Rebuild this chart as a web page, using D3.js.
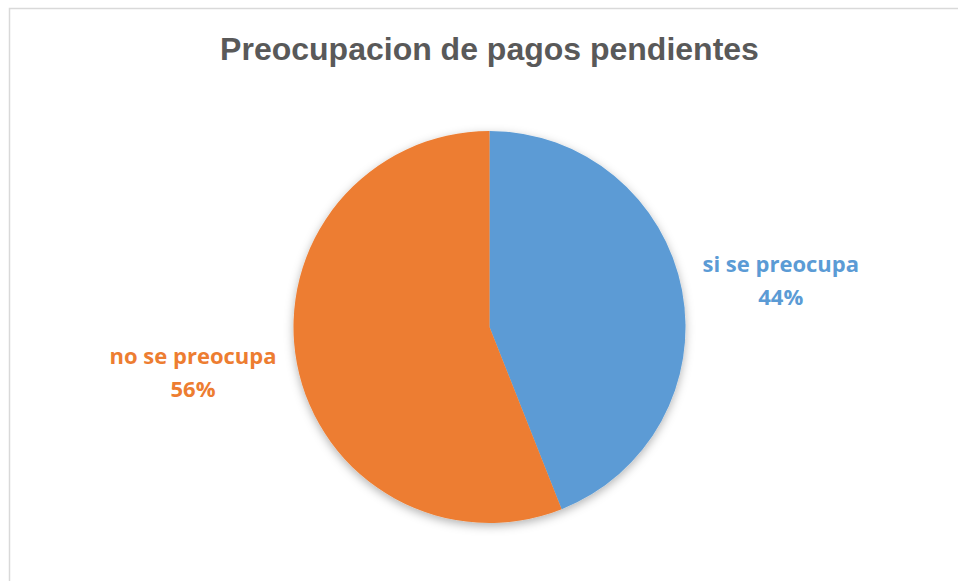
<!DOCTYPE html>
<html>
  <head>
    <title>Preocupacion de pagos pendientes</title>
    <meta charset="utf-8" />
    <style>
      body { margin: 0; background: #fff; }
    </style>
  </head>
  <body>
    <div id="chart"></div>
    <script src="https://d3js.org/d3.v7.min.js"></script>
    <script type="text/javascript">
        const categories = ["si se preocupa", "no se preocupa"];
        const values = [44, 56];
        const colors = ["#5B9BD5", "#ED7D31"];
        const title = "Preocupacion de pagos pendientes";

        const width = 958;
        const height = 581;
        const cx = 489.5, cy = 327, radius = 196;

        const svg = d3.select("#chart")
            .append("svg")
            .attr("width", width)
            .attr("height", height);

        const defs = svg.append("defs");
        const shadow = defs.append("filter")
            .attr("id", "shadow")
            .attr("x", "-20%").attr("y", "-20%")
            .attr("width", "140%").attr("height", "140%");
        shadow.append("feDropShadow")
            .attr("dx", 0).attr("dy", 3)
            .attr("stdDeviation", 5)
            .attr("flood-color", "#000")
            .attr("flood-opacity", 0.3);

        // chart frame (bottom/right run off the page)
        svg.append("rect")
            .attr("x", 9.5).attr("y", 8.5)
            .attr("width", 960).attr("height", 600)
            .attr("fill", "#fff")
            .attr("stroke", "#d9d9d9")
            .attr("stroke-width", 1.5);

        svg.append("text")
            .attr("x", cx)
            .attr("y", 60)
            .attr("text-anchor", "middle")
            .attr("font-family", "Liberation Sans, Arial, sans-serif")
            .attr("font-weight", "bold")
            .attr("font-size", 32)
            .attr("fill", "#595959")
            .text(title);

        const data = categories.map((c, i) => ({ name: c, value: values[i], color: colors[i] }));

        const pie = d3.pie().value(d => d.value).sort(null);
        const arcs = pie(data);
        const arc = d3.arc().innerRadius(0).outerRadius(radius);
        const labelArc = d3.arc().innerRadius(243).outerRadius(243);

        const g = svg.append("g")
            .attr("transform", `translate(${cx},${cy})`);

        g.append("g")
            .attr("filter", "url(#shadow)")
            .selectAll("path")
            .data(arcs)
            .join("path")
            .attr("d", arc)
            .attr("fill", d => d.data.color);

        const total = d3.sum(values);
        const labels = g.append("g")
            .attr("font-family", "Open Sans, sans-serif")
            .attr("font-weight", "bold")
            .attr("font-size", 22)
            .attr("text-anchor", "middle")
            .selectAll("text")
            .data(arcs)
            .join("text")
            .attr("fill", d => d.data.color);

        labels.append("tspan")
            .attr("x", 0)
            .attr("y", -9)
            .text(d => d.data.name);
        labels.append("tspan")
            .attr("x", 0)
            .attr("y", 24)
            .text(d => Math.round(d.data.value / total * 100) + "%");

        // outside-end: keep the near edge of each label a fixed gap from the pie
        labels.attr("transform", function(d) {
            const [x, y] = labelArc.centroid(d);
            const w = this.getBBox().width;
            const side = x < 0 ? -1 : 1;
            return `translate(${side * (radius + 17 + w / 2)},${y})`;
        });
    </script>
  </body>
</html>
